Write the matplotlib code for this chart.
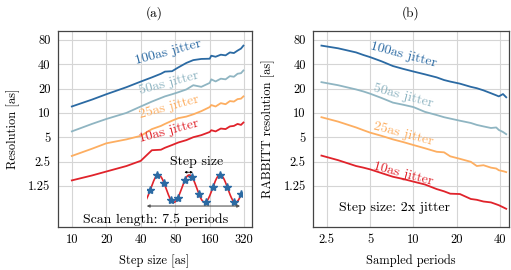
import numpy as np
import matplotlib
matplotlib.use("Agg")
import matplotlib.pyplot as plt
from matplotlib.ticker import FixedLocator, FixedFormatter, NullLocator

plt.rcParams['font.family'] = 'serif'
plt.rcParams['font.serif'] = ['cmr10']
plt.rcParams['mathtext.fontset'] = 'cm'
plt.rcParams['axes.formatter.use_mathtext'] = True
plt.rcParams['font.size'] = 9

# (a) resolution vs step size
steps = [10, 15, 20, 30, 40, 50, 60, 65, 75, 85, 100, 115, 135, 160, 165, 180, 200, 220, 240, 260, 280, 300, 315]
res_a_100 = [12.0, 14.6, 17.0, 20.8, 24.4, 27.5, 30.5, 32.4, 32.8, 36.5, 41.5, 45.0, 46.5, 46.8, 51.0, 49.5, 52.5, 51.5, 56.0, 55.0, 59.0, 62.5, 68.0]
res_a_50 = [5.9, 7.3, 8.4, 10.0, 12.0, 13.8, 15.3, 16.0, 17.0, 18.0, 19.5, 22.0, 21.0, 23.5, 26.0, 24.5, 26.5, 26.0, 28.5, 28.0, 30.5, 31.0, 33.5]
res_a_25 = [2.93, 3.6, 4.2, 4.7, 5.2, 6.3, 6.9, 7.3, 8.0, 8.6, 9.0, 9.6, 10.5, 11.8, 12.5, 12.0, 13.2, 12.8, 14.0, 13.8, 14.8, 15.0, 16.0]
res_a_10 = [1.46, 1.68, 1.88, 2.2, 2.55, 3.45, 3.5, 3.7, 4.0, 4.3, 4.6, 5.0, 5.3, 5.8, 6.1, 5.9, 6.4, 6.3, 6.8, 6.9, 7.3, 7.1, 7.6]

# (b) RABBITT resolution vs sampled periods
periods = [2.3, 3, 4, 4.5, 5, 6, 7.2, 8.5, 10, 12, 14.5, 16.3, 18, 21, 25, 27.5, 30.6, 34.5, 37.5, 39.1, 41.8, 44]
res_b_100 = [68, 63, 56, 52, 49, 43.5, 38, 35, 32.5, 30, 27.5, 25.5, 24.4, 23, 21, 20.2, 19, 17.5, 16.5, 16.0, 17.1, 15.6]
res_b_50 = [24, 22, 19.5, 18.4, 17.3, 15.3, 13.4, 12.6, 11.8, 10.3, 9.4, 8.84, 8.5, 8.0, 7.5, 7.1, 6.8, 6.5, 6.6, 6.15, 5.8, 5.45]
res_b_25 = [8.84, 7.8, 6.6, 6.1, 5.7, 5.2, 4.7, 4.35, 4.0, 3.65, 3.3, 3.25, 2.9, 2.7, 2.48, 2.2, 2.25, 2.1, 2.05, 1.95, 1.9, 1.85]
res_b_10 = [2.96, 2.6, 2.2, 2.1, 2.0, 1.8, 1.62, 1.52, 1.41, 1.3, 1.14, 1.07, 1.0, 0.99, 0.86, 0.84, 0.80, 0.78, 0.74, 0.72, 0.68, 0.65]

jitters = ['100as jitter', '50as jitter', '25as jitter', '10as jitter']
colors = ['#2b6aa3', '#8fb5c2', '#fdae61', '#e0232b']

y_ticks = [1.25, 2.5, 5, 10, 20, 40, 80]
y_labels = ['1.25', '2.5', '5', '10', '20', '40', '80']
xa_ticks = [10, 20, 40, 80, 160, 320]
xb_ticks = [2.5, 5, 10, 20, 40]

W, H = 511, 270
fig = plt.figure(figsize=(W / 100, H / 100), dpi=100)


def px(x0, y0, x1, y1):
    return [x0 / W, 1 - y1 / H, (x1 - x0) / W, (y1 - y0) / H]


ax1 = fig.add_axes(px(57.5, 30.7, 251.7, 227))
ax2 = fig.add_axes(px(312.7, 30.7, 509, 227))


def style(ax, xt):
    ax.set_xscale('log', base=2)
    ax.set_yscale('log', base=2)
    ax.xaxis.set_major_locator(FixedLocator(xt))
    ax.xaxis.set_major_formatter(FixedFormatter([('%g' % v) for v in xt]))
    ax.yaxis.set_major_locator(FixedLocator(y_ticks))
    ax.yaxis.set_major_formatter(FixedFormatter(y_labels))
    ax.xaxis.set_minor_locator(NullLocator())
    ax.yaxis.set_minor_locator(NullLocator())
    ax.tick_params(length=0, pad=5)
    ax.grid(True, color='#d5d5d5', lw=0.8)
    ax.set_axisbelow(True)
    for s in ax.spines.values():
        s.set_color('#444444')
        s.set_linewidth(0.9)
    ax.set_ylim(0.387, 104)


style(ax1, xa_ticks)
style(ax2, xb_ticks)
ax1.set_xlim(7.5, 372)
ax2.set_xlim(2.0, 46)

for ys, c in zip([res_a_100, res_a_50, res_a_25, res_a_10], colors):
    ax1.plot(steps, ys, color=c, lw=1.3)
for ys, c in zip([res_b_100, res_b_50, res_b_25, res_b_10], colors):
    ax2.plot(periods, ys, color=c, lw=1.3)

for lab, c, yv in zip(jitters, colors, [55.4, 23.5, 11.9, 6.0]):
    ax1.text(70, yv, lab, color=c, rotation=15, ha='center', va='center', fontsize=10)
for lab, c, yv in zip(jitters, colors, [52, 16.2, 5.5, 1.75]):
    ax2.text(8.5, yv, lab, color=c, rotation=-15, ha='center', va='center', fontsize=10)

ax1.text(53.5, 0.475, 'Scan length: 7.5 periods', ha='center', va='center', fontsize=10)
ax2.text(7.36, 0.67, 'Step size: 2x jitter', ha='center', va='center', fontsize=10)

ax1.set_title('(a)', pad=10, fontsize=9.5)
ax2.set_title('(b)', pad=10, fontsize=9.5)
ax1.set_xlabel('Step size [as]', labelpad=6)
ax2.set_xlabel('Sampled periods', labelpad=6)
ax1.set_ylabel('Resolution [as]', labelpad=6)
ax2.set_ylabel('RABBITT resolution [as]', labelpad=6)

# schematic inset: sampled sine wave
ins = fig.add_axes(px(146.7, 168, 241.7, 210))
ins.axis('off')
ins.set_xlim(-0.38, 2.70)
ins.set_ylim(-1.56, 1.51)
t = np.linspace(-0.38, 2.70, 300)
ins.plot(t, np.cos(2 * np.pi * t), color=colors[3], lw=1.2)
ts = -0.27 + 0.227 * np.arange(14)
ins.plot(ts, np.cos(2 * np.pi * ts), ls='none', marker='*', ms=6, color=colors[0])
ins.annotate('', xy=(-0.38, -1.27), xytext=(2.65, -1.27),
             arrowprops=dict(arrowstyle='<|-|>', color='#555555', lw=0.8, mutation_scale=4,
                             shrinkA=0, shrinkB=0))
ins.annotate('', xy=(0.84, 1.2), xytext=(1.12, 1.2),
             arrowprops=dict(arrowstyle='<|-|>', color='black', lw=0.6, mutation_scale=3,
                             shrinkA=0, shrinkB=0))
fig.text(197 / W, 1 - 162 / H, 'Step size', ha='center', va='center', fontsize=10)

fig.savefig('out.png', dpi=100)
